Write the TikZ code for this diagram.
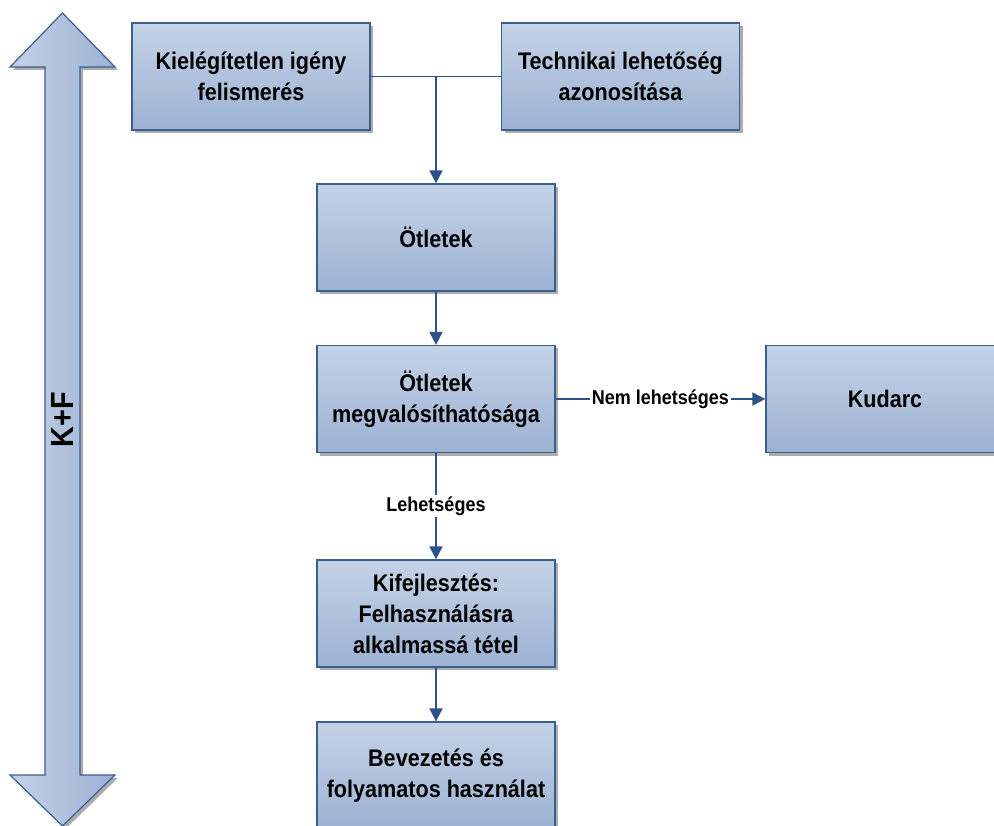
\documentclass[tikz,border=0pt]{standalone}
\usepackage{fontspec}
\setmainfont[FakeStretch=0.9]{Liberation Sans}
\usetikzlibrary{arrows.meta,shadows}
\definecolor{boxtop}{HTML}{C4D2E6}
\definecolor{boxbot}{HTML}{9CB2D3}
\definecolor{boxline}{HTML}{3B5E91}
\definecolor{conncol}{HTML}{2E5288}
\tikzset{
  box/.style={draw=boxline, line width=1.2pt, top color=boxtop, bottom color=boxbot,
    minimum width=238pt, minimum height=107pt, inner sep=0pt, align=center,
    font=\fontsize{24}{31}\selectfont\bfseries,
    general shadow={fill=gray!65, shadow xshift=3pt, shadow yshift=-3pt}},
  conn/.style={draw=conncol, line width=1.8pt},
  arr/.style={conn, -{Triangle[length=13pt,width=13pt]}},
  lbl/.style={fill=white, inner sep=1.5pt, font=\fontsize{20}{24}\selectfont\bfseries}
}
\begin{document}
\begin{tikzpicture}[x=1pt,y=-1pt]
\useasboundingbox (0,0) rectangle (994,826);
\clip (0,0) rectangle (994,826);
% K+F double arrow
\fill[gray!65] (65.5,16) -- (118,70) -- (83,70) -- (83,778) -- (118,778) -- (65.5,829) -- (13,778) -- (48,778) -- (48,70) -- (13,70) -- cycle;
\draw[boxline, line width=1.2pt, left color=boxtop, right color=boxbot]
  (62.5,13) -- (115,67) -- (80,67) -- (80,775) -- (115,775) -- (62.5,826) -- (10,775) -- (45,775) -- (45,67) -- (10,67) -- cycle;
\node[rotate=90, font=\fontsize{32}{36}\selectfont\bfseries] (kf) at (62,420) {K+F};
% boxes
\node[box] (k1) at (251,76.5) {Kielégítetlen igény\\felismerés};
\node[box] (k2) at (620.5,76.5) {Technikai lehetőség\\azonosítása};
\node[box] (otl) at (436,237.5) {Ötletek};
\node[box] (meg) at (436,399) {Ötletek\\megvalósíthatósága};
\node[box] (kud) at (885,399) {Kudarc};
\node[box] (kif) at (436,613.5) {Kifejlesztés:\\Felhasználásra\\alkalmassá tétel};
\node[box] (bev) at (436,775.5) {Bevezetés és\\folyamatos használat};
% connectors
\coordinate (j) at (436,76.5);
\draw[conn] (k1.east) -- (k2.west);
\draw[arr] (j) -- (otl.north);
\draw[arr] (otl.south) -- (meg.north);
\draw[arr] (meg.east) -- node[lbl] (nl) {Nem lehetséges} (kud.west);
\draw[arr] (meg.south) -- node[lbl] (le) {Lehetséges} (kif.north);
\draw[arr] (kif.south) -- (bev.north);
\end{tikzpicture}
\end{document}
